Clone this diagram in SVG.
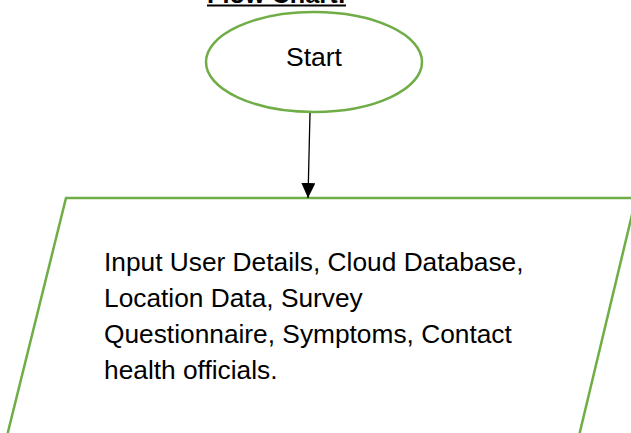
<svg xmlns="http://www.w3.org/2000/svg" width="631" height="433" viewBox="0 0 631 433">
<style>
.shape{fill:#fff;stroke:#70AD47;stroke-width:2.5}
.t{font-family:"Liberation Sans",Arial,sans-serif;fill:#000}
.conn{stroke:#000;stroke-width:1.3;fill:none}
</style>
<defs>
<marker id="ah" markerWidth="15" markerHeight="14" refX="15" refY="7" orient="auto" markerUnits="userSpaceOnUse">
<path d="M0,0 L15,7 L0,14 Z" fill="#000"/>
</marker>
</defs>
<rect width="631" height="433" fill="#fff"/>
<g id="title">
<text class="t" x="207" y="3" font-size="25" font-weight="bold" textLength="139" lengthAdjust="spacingAndGlyphs">Flow Chart:</text>
<line x1="207" y1="5.5" x2="346" y2="5.5" stroke="#000" stroke-width="2"/>
</g>
<g id="start">
<ellipse class="shape" cx="314" cy="62" rx="108" ry="50"/>
<text class="t" x="314" y="66" font-size="26.5" text-anchor="middle">Start</text>
</g>
<g id="input">
<polygon class="shape" points="66,198 636,198 578,440 6,440"/>
<text class="t" font-size="26.3" x="104">
<tspan x="104" y="271">Input User Details, Cloud Database,</tspan>
<tspan x="104" y="307">Location Data, Survey</tspan>
<tspan x="104" y="343">Questionnaire, Symptoms, Contact</tspan>
<tspan x="104" y="379">health officials.</tspan>
</text>
</g>
<g id="connectors">
<line class="conn" x1="310" y1="113" x2="308" y2="198" marker-end="url(#ah)"/>
</g>
</svg>
